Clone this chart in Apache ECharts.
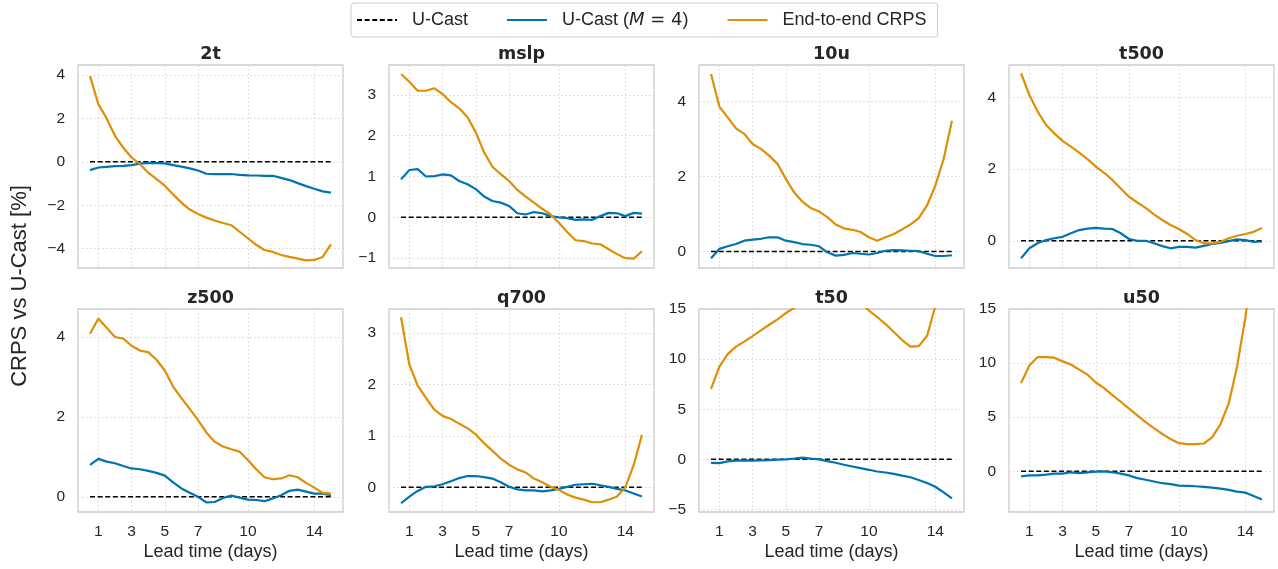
<!DOCTYPE html>
<html>
<head>
<meta charset="utf-8">
<script src="https://cdn.jsdelivr.net/npm/echarts@6/dist/echarts.min.js"></script>
<style>
  html, body { margin: 0; padding: 0; background: #fff; }
  #chart { width: 1278px; height: 569px; }
</style>
</head>
<body>
<div id="chart"></div>
<script>
// lead times (days), 12 h steps
const leadDays = [0.5, 1, 1.5, 2, 2.5, 3, 3.5, 4, 4.5, 5, 5.5, 6, 6.5, 7, 7.5, 8, 8.5, 9, 9.5, 10, 10.5, 11, 11.5, 12, 12.5, 13, 13.5, 14, 14.5, 15];
const xTicks = [1, 3, 5, 7, 10, 14];
// the reference itself, always 0 %
const uCast = [0, 0, 0, 0, 0, 0, 0, 0, 0, 0, 0, 0, 0, 0, 0, 0, 0, 0, 0, 0, 0, 0, 0, 0, 0, 0, 0, 0, 0, 0];

const panelNames = ['2t', 'mslp', '10u', 't500', 'z500', 'q700', 't50', 'u50'];

const m4_2t = [-0.38, -0.26, -0.23, -0.2, -0.19, -0.15, -0.08, -0.05, -0.06, -0.07, -0.15, -0.22, -0.3, -0.4, -0.55, -0.57, -0.57, -0.56, -0.6, -0.62, -0.63, -0.65, -0.64, -0.74, -0.84, -0.98, -1.12, -1.24, -1.36, -1.42];
const e2e_2t = [3.95, 2.65, 2.0, 1.2, 0.65, 0.2, -0.1, -0.5, -0.8, -1.1, -1.5, -1.88, -2.2, -2.4, -2.57, -2.7, -2.82, -2.92, -3.22, -3.52, -3.82, -4.06, -4.15, -4.29, -4.38, -4.46, -4.54, -4.52, -4.38, -3.8];

const m4_mslp = [0.93, 1.16, 1.18, 1.0, 1.01, 1.05, 1.03, 0.89, 0.81, 0.69, 0.51, 0.4, 0.36, 0.28, 0.1, 0.07, 0.13, 0.1, 0.03, 0, -0.02, -0.06, -0.05, -0.06, 0.03, 0.11, 0.1, 0.03, 0.11, 0.09];
const e2e_mslp = [3.51, 3.32, 3.1, 3.1, 3.16, 3.02, 2.82, 2.67, 2.45, 2.08, 1.59, 1.24, 1.06, 0.89, 0.67, 0.51, 0.36, 0.21, 0.07, -0.13, -0.36, -0.56, -0.58, -0.64, -0.66, -0.78, -0.9, -1.0, -1.01, -0.83];

const m4_10u = [-0.18, 0.07, 0.14, 0.2, 0.29, 0.32, 0.34, 0.38, 0.38, 0.29, 0.25, 0.2, 0.18, 0.14, -0.02, -0.11, -0.09, -0.04, -0.06, -0.08, -0.04, 0.02, 0.04, 0.03, 0.02, 0.01, -0.06, -0.12, -0.12, -0.1];
const e2e_10u = [4.74, 3.87, 3.58, 3.29, 3.14, 2.87, 2.74, 2.56, 2.34, 1.94, 1.58, 1.33, 1.16, 1.07, 0.92, 0.72, 0.62, 0.58, 0.52, 0.38, 0.29, 0.38, 0.47, 0.59, 0.72, 0.89, 1.23, 1.76, 2.47, 3.49];

const m4_t500 = [-0.49, -0.21, -0.07, 0.02, 0.07, 0.11, 0.21, 0.3, 0.34, 0.36, 0.34, 0.33, 0.21, 0.05, 0, 0, -0.07, -0.15, -0.21, -0.17, -0.17, -0.19, -0.14, -0.09, -0.06, -0.01, 0.04, 0.02, -0.03, -0.02];
const e2e_t500 = [4.68, 4.07, 3.61, 3.24, 3.0, 2.79, 2.63, 2.46, 2.28, 2.07, 1.9, 1.7, 1.46, 1.23, 1.07, 0.92, 0.74, 0.58, 0.44, 0.33, 0.19, 0.02, -0.07, -0.07, -0.03, 0.07, 0.14, 0.19, 0.25, 0.36];

const m4_z500 = [0.8, 0.95, 0.88, 0.84, 0.77, 0.71, 0.69, 0.65, 0.6, 0.53, 0.36, 0.21, 0.1, 0, -0.14, -0.13, -0.03, 0.03, -0.02, -0.07, -0.08, -0.11, -0.04, 0.04, 0.15, 0.18, 0.13, 0.08, 0.08, 0.04];
const e2e_z500 = [4.08, 4.46, 4.23, 4.0, 3.96, 3.78, 3.66, 3.62, 3.43, 3.16, 2.76, 2.47, 2.2, 1.92, 1.61, 1.38, 1.26, 1.19, 1.13, 0.92, 0.69, 0.49, 0.44, 0.46, 0.54, 0.49, 0.35, 0.23, 0.1, 0.08];

const m4_q700 = [-0.31, -0.18, -0.07, 0.01, 0.02, 0.06, 0.12, 0.18, 0.22, 0.22, 0.2, 0.17, 0.1, 0.01, -0.04, -0.06, -0.06, -0.08, -0.06, -0.03, 0.01, 0.05, 0.06, 0.07, 0.04, 0.01, -0.03, -0.06, -0.12, -0.18];
const e2e_q700 = [3.31, 2.39, 1.98, 1.74, 1.51, 1.39, 1.33, 1.24, 1.15, 1.03, 0.86, 0.71, 0.56, 0.44, 0.35, 0.29, 0.17, 0.1, 0.01, -0.05, -0.14, -0.2, -0.24, -0.29, -0.29, -0.24, -0.18, 0.0, 0.43, 1.02];

const m4_t50 = [-0.34, -0.37, -0.2, -0.13, -0.1, -0.13, -0.1, -0.07, -0.03, 0, 0.07, 0.17, 0.07, 0, -0.17, -0.34, -0.54, -0.71, -0.88, -1.04, -1.21, -1.31, -1.45, -1.62, -1.78, -2.05, -2.36, -2.73, -3.3, -3.9];
const e2e_t50 = [7.04, 9.26, 10.5, 11.25, 11.75, 12.3, 12.86, 13.43, 13.97, 14.6, 15.1, 15.6, 16.0, 16.3, 16.5, 16.6, 16.5, 16.2, 15.6, 14.85, 14.2, 13.5, 12.7, 11.9, 11.25, 11.3, 12.3, 15.3, 21.0, 27.0];

const m4_u50 = [-0.47, -0.38, -0.38, -0.31, -0.22, -0.22, -0.09, -0.16, -0.09, -0.03, 0, -0.09, -0.22, -0.38, -0.63, -0.78, -0.94, -1.1, -1.19, -1.32, -1.35, -1.38, -1.44, -1.5, -1.6, -1.72, -1.88, -1.97, -2.29, -2.6];
const e2e_u50 = [8.15, 9.78, 10.56, 10.56, 10.5, 10.16, 9.87, 9.4, 8.93, 8.21, 7.68, 7.05, 6.43, 5.8, 5.17, 4.55, 4.0, 3.45, 2.98, 2.6, 2.51, 2.51, 2.57, 3.13, 4.33, 6.27, 9.66, 14.2, 20.0, 26.0];

const m4Series = [m4_2t, m4_mslp, m4_10u, m4_t500, m4_z500, m4_q700, m4_t50, m4_u50];
const e2eSeries = [e2e_2t, e2e_mslp, e2e_10u, e2e_t500, e2e_z500, e2e_q700, e2e_t50, e2e_u50];

// y tick labels per panel
const yTicks = [
    [-4, -2, 0, 2, 4],
    [-1, 0, 1, 2, 3],
    [0, 2, 4],
    [0, 2, 4],
    [0, 2, 4],
    [0, 1, 2, 3],
    [-5, 0, 5, 10, 15],
    [0, 5, 10, 15]
];

// axis limits
const yLimits = [
    [-4.89, 4.46], [-1.24, 3.73], [-0.44, 4.98], [-0.76, 4.91],
    [-0.38, 4.70], [-0.48, 3.47], [-5.25, 15], [-3.76, 15]
];

const NAME_BASE = 'U-Cast';
const NAME_M4 = 'U-Cast (M = 4)';
const NAME_E2E = 'End-to-end CRPS';

const BLUE = '#0173b2';
const ORANGE = '#de8f05';
const TXT = '#262626';
const SANS = 'Liberation Sans';

const colLeft = [78, 389, 699, 1009];
const rowTop = [65, 309];
const panelW = 265, panelH = 203;

const grids = [], xAxes = [], yAxes = [], series = [], graphics = [];

panelNames.forEach(function (name, i) {
    const row = Math.floor(i / 4), col = i % 4;
    grids.push({
        left: colLeft[col], top: rowTop[row], width: panelW, height: panelH,
        show: true, borderColor: '#cccccc', borderWidth: 1.3, backgroundColor: '#fff'
    });
    xAxes.push({
        type: 'value', gridIndex: i, min: -0.225, max: 15.725,
        axisLine: { show: false },
        axisTick: { show: false, customValues: xTicks },
        axisLabel: { show: row === 1, customValues: xTicks, color: TXT, fontSize: 15.5, fontFamily: SANS, margin: 12 },
        splitLine: { show: true, lineStyle: { color: '#d4d4d4', width: 1, type: [1.5, 2.5] } },
        name: row === 1 ? 'Lead time (days)' : '',
        nameLocation: 'middle', nameGap: 31,
        nameTextStyle: { color: TXT, fontSize: 18, fontFamily: SANS }
    });
    yAxes.push({
        type: 'value', gridIndex: i, min: yLimits[i][0], max: yLimits[i][1],
        axisLine: { show: false },
        axisTick: { show: false, customValues: yTicks[i] },
        axisLabel: {
            customValues: yTicks[i], color: TXT, fontSize: 15.5, fontFamily: SANS, margin: 13,
            formatter: function (v) { return String(v).replace('-', '\u2212'); }
        },
        splitLine: { show: true, lineStyle: { color: '#d4d4d4', width: 1, type: [1.5, 2.5] } }
    });
    series.push({
        name: NAME_BASE, type: 'line', xAxisIndex: i, yAxisIndex: i, symbol: 'none',
        data: leadDays.map(function (d, k) { return [d, uCast[k]]; }),
        lineStyle: { color: '#000', width: 1.5, type: [5, 2.6] }, itemStyle: { color: '#000' }
    });
    series.push({
        name: NAME_M4, type: 'line', xAxisIndex: i, yAxisIndex: i, symbol: 'none',
        data: leadDays.map(function (d, k) { return [d, m4Series[i][k]]; }),
        lineStyle: { color: BLUE, width: 2.2 }, itemStyle: { color: BLUE }
    });
    series.push({
        name: NAME_E2E, type: 'line', xAxisIndex: i, yAxisIndex: i, symbol: 'none',
        data: leadDays.map(function (d, k) { return [d, e2eSeries[i][k]]; }),
        lineStyle: { color: ORANGE, width: 2.2 }, itemStyle: { color: ORANGE }
    });
    graphics.push({
        type: 'text', x: colLeft[col] + panelW / 2, y: rowTop[row] - 11,
        style: {
            text: name, fill: TXT, align: 'center', verticalAlign: 'middle',
            font: 'bold 17.5px "DejaVu Sans", sans-serif'
        }
    });
});

graphics.push({
    type: 'text', x: 20, y: 286, rotation: Math.PI / 2,
    style: {
        text: 'CRPS vs U-Cast [%]', fill: TXT, align: 'center', verticalAlign: 'middle',
        font: '22px "Liberation Sans", Arial, sans-serif'
    }
});

const legendText = { fontSize: 18, fontFamily: SANS, color: TXT };

const option = {
    animation: false,
    backgroundColor: '#fff',
    grid: grids,
    xAxis: xAxes,
    yAxis: yAxes,
    series: series,
    graphic: graphics,
    legend: {
        data: [NAME_BASE, NAME_M4, NAME_E2E],
        left: 351, top: 3,
        itemWidth: 40, itemHeight: 14, itemGap: 38,
        padding: [8, 11, 8, 5],
        borderColor: '#cccccc', borderWidth: 1, borderRadius: 3,
        itemStyle: { opacity: 0 },
        textStyle: {
            fontSize: 18, fontFamily: SANS, color: TXT,
            rich: {
                t0: Object.assign({ padding: [0, 0, 0, 10] }, legendText),
                t: legendText,
                i: { fontSize: 18, fontFamily: 'DejaVu Sans', fontStyle: 'italic', color: TXT },
                m: { fontSize: 18, fontFamily: 'DejaVu Sans', color: TXT }
            }
        },
        formatter: function (name) {
            if (name === NAME_M4) return '{t0|U-Cast (}{i|M}{m| = 4}{t|)}';
            return '{t0|' + name + '}';
        }
    }
};

const chart = echarts.init(document.getElementById('chart'));
chart.setOption(option);
window.addEventListener('resize', function () { chart.resize(); });
</script>
</body>
</html>
